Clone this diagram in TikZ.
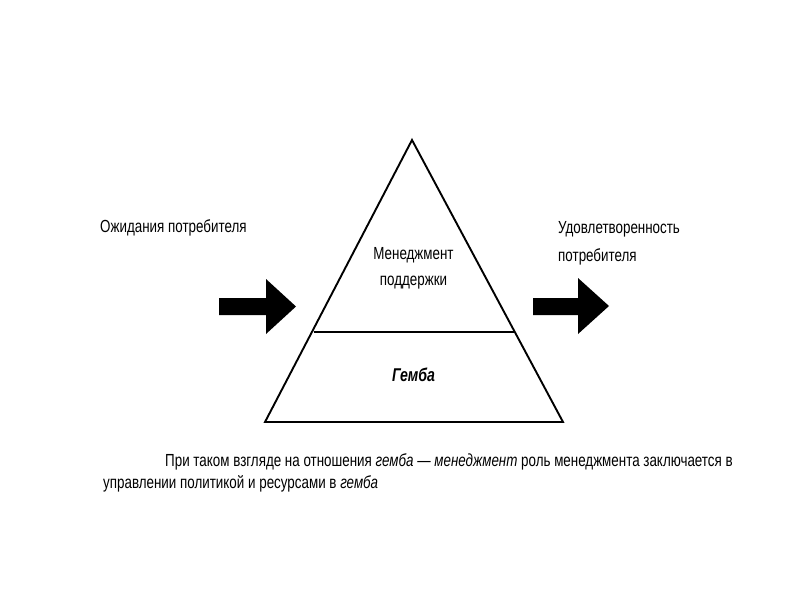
\documentclass[tikz,border=0pt]{standalone}
\usepackage{fontspec}
\setmainfont{Liberation Sans}[FakeStretch=0.765]
\begin{document}
\begin{tikzpicture}[x=1pt,y=-1pt,
  lbl/.style={inner sep=0pt,font=\fontsize{17.5}{20}\selectfont},
  captxt/.style={inner sep=0pt,font=\fontsize{17.5}{20}\selectfont},
  edge/.style={line width=1.9pt,line join=miter},
  bigarrow/.style={fill=black,draw=none}]
\useasboundingbox (0,0) rectangle (800,600);
% pyramid
\coordinate (apex) at (412,140);
\coordinate (bl) at (265,422);
\coordinate (br) at (563,422);
\coordinate (dl) at (313.5,332);
\coordinate (dr) at (514.5,332);
\draw[edge] (apex) -- (br) -- (bl) -- cycle;
\draw[edge] (dl) -- (dr);
\node[lbl] (m1) at (413.5,255) {Менеджмент};
\node[lbl] (m2) at (413.5,283) {поддержки};
\node[lbl,font=\fontsize{18.5}{20}\selectfont\bfseries\itshape] (g) at (413.5,375) {Гемба};
% left arrow
\fill[bigarrow] (219,298) -- (266,298) -- (266,279) -- (296,306.5) -- (266,334) -- (266,315) -- (219,315) -- cycle;
% right arrow
\fill[bigarrow] (533,298) -- (578,298) -- (578,278) -- (609,306) -- (578,334) -- (578,315) -- (533,315) -- cycle;
% labels
\node[lbl,anchor=west] (exp) at (100,228) {Ожидания потребителя};
\node[lbl,anchor=west] (sat1) at (558,229) {Удовлетворенность};
\node[lbl,anchor=west] (sat2) at (558,257) {потребителя};
% caption
\node[captxt,anchor=west] (c1) at (165,462) {При таком взгляде на отношения \textit{гемба — менеджмент} роль менеджмента заключается в};
\node[captxt,anchor=west] (c2) at (103,484) {управлении политикой и ресурсами в \textit{гемба}};
\end{tikzpicture}
\end{document}
